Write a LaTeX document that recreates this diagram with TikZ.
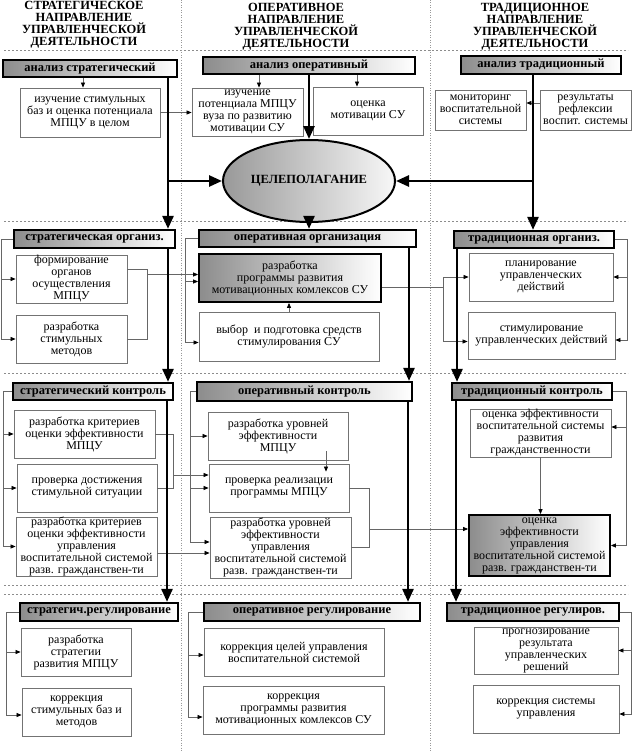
\documentclass[tikz,border=0pt]{standalone}
\usepackage{fontspec}
\setmainfont{Liberation Serif}
\usetikzlibrary{arrows.meta,shapes.geometric}
\newcommand\placebox[7]{\node[#1,minimum width={#5-#3},minimum height={#6-#4}] (#2) at ({(#3+#5)/2},{(#4+#6)/2}) {#7};}
\begin{document}
\begin{tikzpicture}[x=1pt,y=-1pt,
 tbox/.style={draw=black!55,line width=0.8pt,fill=white,align=center,inner sep=0pt,font=\fontsize{12}{12}\selectfont},
 hbox/.style={draw=black,line width=2.3pt,left color=black!45,right color=white,inner sep=0pt,font=\bfseries\fontsize{12.5}{12}\selectfont},
 kbox/.style={draw=black,line width=1.8pt,left color=black!45,right color=white,align=center,inner sep=0pt,font=\fontsize{12}{12}\selectfont},
 ttl/.style={align=center,inner sep=0pt,font=\bfseries\fontsize{12.5}{12}\selectfont},
 ar/.style={draw=black!60,line width=0.7pt,-{Triangle[length=5pt,width=4pt,black]}},
 ln/.style={draw=black!60,line width=0.7pt},
 tar/.style={draw=black,line width=2.6pt,-{Triangle[length=13pt,width=11pt]}},
 dsh/.style={draw=black!45,line width=0.6pt,dash pattern=on 2pt off 2pt},
 dotl/.style={draw=black!40,line width=0.5pt,dash pattern=on 1pt off 1.5pt}]
\fill[white] (0,0) rectangle (632,752);
\useasboundingbox (0,0) rectangle (632,752);
% separators
\foreach \yy in {50,221,373,585,594} \draw[dsh] (4,\yy) -- (628,\yy);
\foreach \xx in {181,430} \draw[dotl] (\xx,0) -- (\xx,752);
% titles
\node[ttl] (t1) at (84,24.5) {СТРАТЕГИЧЕСКОЕ\\НАПРАВЛЕНИЕ\\УПРАВЛЕНЧЕСКОЙ\\ДЕЯТЕЛЬНОСТИ};
\node[ttl] (t2) at (296,26.5) {ОПЕРАТИВНОЕ\\НАПРАВЛЕНИЕ\\УПРАВЛЕНЧЕСКОЙ\\ДЕЯТЕЛЬНОСТИ};
\node[ttl] (t3) at (535,26.5) {ТРАДИЦИОННОЕ\\НАПРАВЛЕНИЕ\\УПРАВЛЕНЧЕСКОЙ\\ДЕЯТЕЛЬНОСТИ};
% row 1
\placebox{hbox}{as}{3}{60}{177}{77}{анализ стратегический}
\placebox{hbox}{ao}{203}{57}{415}{74}{анализ оперативный}
\placebox{hbox}{at}{461}{56}{621}{74}{анализ традиционный}
\placebox{tbox}{b11}{20}{88}{160}{137}{изучение стимульных\\баз и оценка потенциала\\МПЦУ в целом}
\placebox{tbox}{b21}{192}{88}{303}{136}{изучение\\потенциала МПЦУ\\вуза по развитию\\мотивации СУ}
\placebox{tbox}{b22}{313}{87}{423}{135}{оценка\\мотивации СУ}
\placebox{tbox}{b31}{435}{90}{526}{130}{мониторинг\\воспитательной\\системы}
\placebox{tbox}{b32}{540}{90}{631}{130}{результаты\\рефлексии\\воспит. системы}
\node[ellipse,draw,line width=2pt,left color=black!40,right color=black!3,minimum width=172,minimum height=82,inner sep=0pt,font=\bfseries\fontsize{12.5}{12}\selectfont] (goal) at (309,181) {ЦЕЛЕПОЛАГАНИЕ};
% row 2
\placebox{hbox}{so}{14}{230}{175}{248}{стратегическая организ.}
\placebox{hbox}{oo}{199}{230}{416}{247}{оперативная организация}
\placebox{hbox}{to}{454}{231}{614}{248}{традиционная организ.}
\placebox{tbox}{b13}{16}{255}{127}{303}{формирование\\органов\\осуществления\\МПЦУ}
\placebox{tbox}{b14}{16}{315}{127}{363}{разработка\\стимульных\\методов}
\placebox{kbox}{b23}{199}{254}{381}{302}{разработка\\программы развития\\мотивационных комлексов СУ}
\placebox{tbox}{b24}{199}{312}{379}{361}{выбор\ \ и подготовка средств\\стимулирования СУ}
\placebox{tbox}{b33}{469}{253}{613}{301}{планирование\\управленческих\\действий}
\placebox{tbox}{b34}{468}{312}{615}{359}{стимулирование\\управленческих действий}
% row 3
\placebox{hbox}{sc}{13}{383}{173}{400}{стратегический контроль}
\placebox{hbox}{oc}{197}{382}{412}{401}{оперативный контроль}
\placebox{hbox}{tc}{452}{383}{612}{400}{традиционный контроль}
\placebox{tbox}{b15}{14}{410}{155}{458}{разработка критериев\\оценки эффективности\\МПЦУ}
\placebox{tbox}{b16}{17}{464}{157}{512}{проверка достижения\\стимульной ситуации}
\placebox{tbox}{b17}{16}{517}{157}{576}{разработка критериев\\оценки эффективности\\управления\\воспитательной системой\\разв. гражданствен-ти}
\placebox{tbox}{b25}{208}{412}{348}{460}{разработка уровней\\эффективности\\МПЦУ}
\placebox{tbox}{b26}{209}{464}{349}{512}{проверка реализации\\программы МПЦУ}
\placebox{tbox}{b27}{210}{517}{351}{578}{разработка уровней\\эффективности\\управления\\воспитательной системой\\разв. гражданствен-ти}
\placebox{tbox}{b35}{470}{409}{611}{457}{оценка эффективности\\воспитательной системы\\развития\\гражданственности}
\placebox{kbox}{b36}{469}{515}{610}{576}{оценка\\эффективности\\управления\\воспитательной системой\\разв. гражданствен-ти}
% row 4
\placebox{hbox}{sr}{20}{603}{178}{621}{стратегич.регулирование}
\placebox{hbox}{or}{204}{603}{420}{621}{оперативное регулирование}
\placebox{hbox}{tr}{447}{603}{619}{621}{традиционное регулиров.}
\placebox{tbox}{b18}{21}{628}{131}{676}{разработка\\стратегии\\развития МПЦУ}
\placebox{tbox}{b19}{22}{688}{131}{736}{коррекция\\стимульных баз и\\методов}
\placebox{tbox}{b28}{204}{628}{384}{676}{коррекция целей управления\\воспитательной системой}
\placebox{tbox}{b29}{203}{686}{384}{734}{коррекция\\программы развития\\мотивационных комлексов СУ}
\placebox{tbox}{b37}{474}{627}{618}{674}{прогнозирование\\результата\\управленческих\\решений}
\placebox{tbox}{b38}{473}{685}{619}{733}{коррекция системы\\управления}
% ---- connectors row 1
\draw[ar] (as.south -| 83,0) -- (b11.north -| 83,0);
\draw[ar] (b11.east) -- (b11.east -| b21.west);
\draw[ar] (ao.south -| 259,0) -- (b21.north -| 259,0);
\draw[ar] (ao.south -| 357,0) -- (b22.north -| 357,0);
\draw[ar] ([yshift=7pt]b32.west) -- ([yshift=7pt]b32.west -| b31.east);
\draw[tar] (as.south -| 168,0) -- (so.north -| 168,0);
\draw[tar] (goal.west -| 168,0) -- (goal.west);
\draw[tar] (ao.south -| goal.north) -- (goal.north);
\draw[tar] (at.south -| 533,0) -- (to.north -| 533,0);
\draw[tar] (goal.east -| 533,0) -- (goal.east);
\draw[tar] (goal.south) -- (oo.north -| goal.south);
% ---- row 2
\draw[ar] (so.west) -| (1,0 |- b14.west) -- (b14.west);
\draw[ar] (b13.west -| 1,0) -- (b13.west);
\draw[ln] ([yshift=10pt]b13.east) -| (147,0 |- b14.east) -- (b14.east);
\draw[ar] ([yshift=3.5pt]b23.west -| 147,0) -- ([yshift=3.5pt]b23.west);
\draw[ar] (oo.west) -| ([yshift=-6pt]b24.west -| 185,0) -- ([yshift=-6pt]b24.west);
\draw[ar] ([yshift=-3.5pt]b23.west -| 185,0) -- ([yshift=-3.5pt]b23.west);
\draw[ar] (b24.north) -- (b24.north |- b23.south);
\draw[ln] ([yshift=-9pt]b23.east) -- ([yshift=-9pt]b23.east -| 443,0);
\draw[ar] ([yshift=-6pt]b34.west -| 443,0) |- (b33.west);
\draw[ar] ([yshift=-6pt]b34.west -| 443,0) -- ([yshift=-6pt]b34.west);
\draw[ar] (to.east) -| ([yshift=-4.5pt]b34.east -| 627,0) -- ([yshift=-4.5pt]b34.east);
\draw[ar] (b33.east -| 627,0) -- (b33.east);
\draw[tar] (so.south -| 168,0) -- (sc.north -| 168,0);
\draw[tar] (oo.south -| 409,0) -- (oc.north -| 409,0);
\draw[tar] (to.south -| 457,0) -- (tc.north -| 457,0);
% ---- row 3
\draw[ar] (sc.west) -| (b17.west -| 3,0) -- (b17.west);
\draw[ar] (b15.west -| 3,0) -- (b15.west);
\draw[ar] (b16.west -| 3,0) -- (b16.west);
\draw[ln] (b15.east) -| (b16.east -| 173,0) -- (b16.east);
\draw[ar] ([yshift=13pt]b26.west -| 173,0) -- ([yshift=13pt]b26.west);
\draw[ar] ([yshift=-6.5pt]b17.east) -- ([yshift=-6.5pt]b17.east -| b27.west);
\draw[ar] (oc.west) -| ([yshift=5.5pt]b27.west -| 190,0) -- ([yshift=5.5pt]b27.west);
\draw[ar] (b25.west -| 190,0) -- (b25.west);
\draw[ar] (b26.west -| 190,0) -- (b26.west);
\draw[ar] ([yshift=9pt]b25.south -| 326,0) -- ([yshift=-8pt]b26.north -| 326,0);
\draw[ln] (b26.east) -| (b27.east -| 369,0) -- (b27.east);
\draw[ar] ([yshift=16.5pt]b36.west -| 369,0) -- ([yshift=16.5pt]b36.west);
\draw[ar] (b35.south) -- (b35.south |- b36.north);
\draw[ar] (tc.east) -| (b36.east -| 626,0) -- (b36.east);
\draw[ar] ([yshift=6pt]b35.east -| 626,0) -- ([yshift=6pt]b35.east);
\draw[tar] (sc.south -| 167,0) -- (sr.north -| 167,0);
\draw[tar] (oc.south -| 408,0) -- (or.north -| 408,0);
\draw[tar] (tc.south -| 456,0) -- (tr.north -| 456,0);
% ---- row 4
\draw[ar] (sr.west) -| ([yshift=-3pt]b19.west -| 6,0) -- ([yshift=-3pt]b19.west);
\draw[ar] (b18.west -| 6,0) -- (b18.west);
\draw[ar] (or.west) -| ([yshift=-7pt]b29.west -| 188,0) -- ([yshift=-7pt]b29.west);
\draw[ar] ([yshift=-3pt]b28.west -| 188,0) -- ([yshift=-3pt]b28.west);
\draw[ar] (tr.east) -| ([yshift=-5pt]b38.east -| 631,0) -- ([yshift=-5pt]b38.east);
\draw[ar] (b37.east -| 631,0) -- (b37.east);
\end{tikzpicture}
\end{document}
